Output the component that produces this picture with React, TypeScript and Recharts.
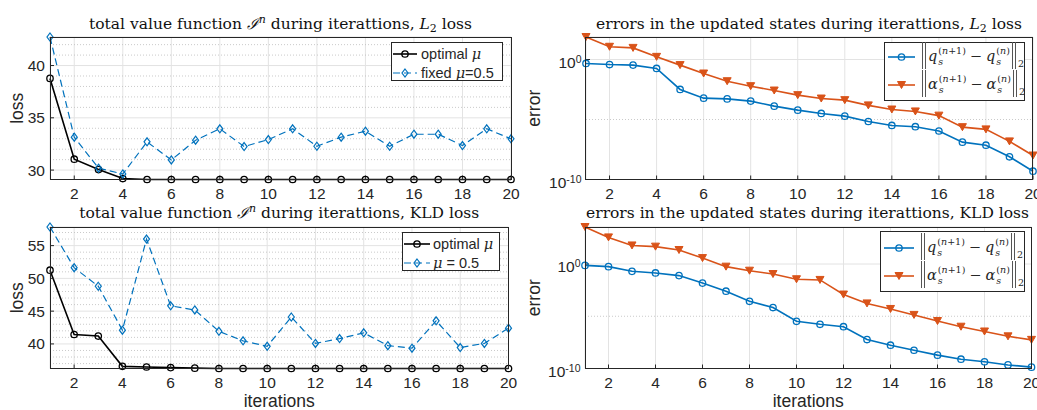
import React from 'react';
import { LineChart, Line, XAxis, YAxis, CartesianGrid, ReferenceLine, Legend } from 'recharts';

const SANS = '"Liberation Sans", Arial, Helvetica, sans-serif';
const SERIF = '"DejaVu Serif", serif';
const INK = '#262626';
const BLUE = '#0072BD';
const RED = '#D95319';

// x axis: iteration index
const iterations = [1, 2, 3, 4, 5, 6, 7, 8, 9, 10, 11, 12, 13, 14, 15, 16, 17, 18, 19, 20];
const iterTicks = [2, 4, 6, 8, 10, 12, 14, 16, 18, 20];

// total value function, L2 loss
const l2Optimal = [38.77, 31.04, 30.05, 29.19, 29.1, 29.1, 29.1, 29.1, 29.1, 29.1, 29.1, 29.1, 29.1, 29.1, 29.1, 29.1, 29.1, 29.1, 29.1, 29.1];
const l2Fixed = [42.73, 33.15, 30.18, 29.63, 32.7, 30.97, 32.86, 33.95, 32.25, 32.92, 33.95, 32.28, 33.15, 33.72, 32.28, 33.43, 33.43, 32.35, 33.95, 32.99];
const l2Ticks = [30, 35, 40];
const l2Minor = [31, 32, 33, 34, 36, 37, 38, 39, 41, 42];

// total value function, KLD loss
const kldOptimal = [51.25, 41.44, 41.2, 36.58, 36.48, 36.39, 36.3, 36.25, 36.25, 36.25, 36.25, 36.25, 36.25, 36.25, 36.25, 36.25, 36.25, 36.25, 36.25, 36.25];
const kldFixed = [57.84, 51.64, 48.8, 42.1, 56.0, 45.81, 45.18, 41.92, 40.47, 39.64, 44.11, 40.08, 40.81, 41.69, 39.74, 39.35, 43.53, 39.45, 40.08, 42.41];
const kldTicks = [40, 45, 50, 55];
const kldMinor = [37, 38, 39, 41, 42, 43, 44, 46, 47, 48, 49, 51, 52, 53, 54, 56, 57];

// errors in the updated states, L2 loss
const errQL2 = [0.47, 0.38, 0.34, 0.18, 3.2e-3, 6e-4, 5.2e-4, 3.4e-4, 1.3e-4, 6e-5, 3.2e-5, 1.9e-5, 6.8e-6, 3.2e-6, 2.5e-6, 1.1e-6, 1.3e-7, 7.2e-8, 7.8e-9, 4.9e-10];
const errAlphaL2 = [75, 11.5, 9.3, 1.66, 0.34, 6.8e-2, 1.55e-2, 6e-3, 2.6e-3, 1.07e-3, 5.6e-4, 4.1e-4, 1.5e-4, 6.8e-5, 4.7e-5, 2.1e-5, 2.3e-6, 1.5e-6, 1.5e-7, 1e-8];

// errors in the updated states, KLD loss
const errQKLD = [0.74, 0.56, 0.2, 0.14, 7.8e-2, 1.5e-2, 2.5e-3, 2.7e-4, 6.8e-5, 3.3e-6, 1.7e-6, 1e-6, 5.9e-8, 1.7e-8, 5.6e-9, 1.9e-9, 7.8e-10, 4.4e-10, 2.2e-10, 1.35e-10];
const errAlphaKLD = [3500, 355, 60, 46, 22, 3.7, 0.56, 0.23, 0.11, 3.5e-2, 3e-2, 1.2e-3, 1.7e-4, 5e-5, 1.35e-5, 3.5e-6, 1e-6, 3.5e-7, 1.2e-7, 5.5e-8];
const errTicks = [1e-10, 1];
const errMinor = [1e-5];

type Kind = 'circle' | 'diamond' | 'triangle';

interface SeriesDef {
  key: string;
  values: number[];
  color: string;
  width: number;
  dash?: string;
  marker: Kind;
  label: React.ReactNode;
}

interface Rect { left: number; top: number; right: number; bottom: number }

interface LegendSpec {
  left: number; top: number; width: number; height: number;
  padTop: number; padLeft: number; rowH: number; sampleW: number; gap: number;
}

function Marker({ kind, cx, cy, color }: { kind: Kind; cx: number; cy: number; color: string }) {
  if (kind === 'circle') {
    return <circle cx={cx} cy={cy} r={3.2} fill="none" stroke={color} strokeWidth={1.3} />;
  }
  if (kind === 'diamond') {
    return (
      <polygon
        points={`${cx},${cy - 4} ${cx + 3},${cy} ${cx},${cy + 4} ${cx - 3},${cy}`}
        fill="none" stroke={color} strokeWidth={1.2}
      />
    );
  }
  return (
    <polygon
      points={`${cx - 4},${cy - 3.5} ${cx + 4},${cy - 3.5} ${cx},${cy + 3.5}`}
      fill={color} stroke={color} strokeWidth={1} strokeLinejoin="round"
    />
  );
}

function LogTick({ x, y, payload }: any) {
  const exp = Math.round(Math.log10(payload.value));
  return (
    <text x={x} y={y} dy={8.3} textAnchor="end" fill={INK} fontSize={15.5} fontFamily={SANS}>
      10<tspan dy={-5} fontSize={10.5}>{exp}</tspan>
    </text>
  );
}

function Mu() {
  return <span style={{ fontFamily: SERIF, fontStyle: 'italic' }}>μ</span>;
}

function DoubleBar() {
  return (
    <span
      style={{
        display: 'inline-block', width: 2, height: 27, margin: '0 2px',
        borderLeft: '1px solid #555', borderRight: '1px solid #555',
      }}
    />
  );
}

function Scripted({ base, sup }: { base: string; sup: React.ReactNode }) {
  return (
    <span style={{ display: 'inline-flex', alignItems: 'center' }}>
      <span style={{ fontStyle: 'italic' }}>{base}</span>
      <span style={{ display: 'inline-flex', flexDirection: 'column', fontSize: 9.5, lineHeight: '11px', marginLeft: 1 }}>
        <span>{sup}</span>
        <span style={{ fontStyle: 'italic' }}>s</span>
      </span>
    </span>
  );
}

function NormLabel({ v }: { v: string }) {
  return (
    <span style={{ display: 'inline-flex', alignItems: 'center', fontFamily: SERIF, fontSize: 14.5, height: 28 }}>
      <DoubleBar />
      <Scripted base={v} sup={<>(<i>n</i>+1)</>} />
      <span style={{ margin: '0 4px' }}>−</span>
      <Scripted base={v} sup={<>(<i>n</i>)</>} />
      <DoubleBar />
      <span style={{ fontSize: 9.5, alignSelf: 'flex-end', marginBottom: 1 }}>2</span>
    </span>
  );
}

function LegendBox({ spec, series }: { spec: LegendSpec; series: SeriesDef[] }) {
  return (
    <div
      style={{
        width: spec.width, height: spec.height, boxSizing: 'border-box',
        border: `1px solid ${INK}`, background: '#fff',
        paddingTop: spec.padTop, paddingLeft: spec.padLeft, color: INK,
      }}
    >
      {series.map((s) => (
        <div key={s.key} style={{ display: 'flex', alignItems: 'center', height: spec.rowH }}>
          <svg width={spec.sampleW} height={14} style={{ flex: 'none' }}>
            <line x1={0} x2={spec.sampleW} y1={7} y2={7} stroke={s.color} strokeWidth={s.width} strokeDasharray={s.dash} />
            <Marker kind={s.marker} cx={spec.sampleW / 2} cy={7} color={s.color} />
          </svg>
          <span style={{ marginLeft: spec.gap, fontFamily: SANS, fontSize: 14.5, whiteSpace: 'nowrap' }}>{s.label}</span>
        </div>
      ))}
    </div>
  );
}

const YW = 60;
const PAD = 12;
const XH = 30;

interface PanelProps {
  rect: Rect;
  series: SeriesDef[];
  log?: boolean;
  domain: [number, number];
  ticks: number[];
  minor: number[];
  legend: LegendSpec;
}

function Panel({ rect, series, log, domain, ticks, minor, legend }: PanelProps) {
  const w = rect.right - rect.left;
  const h = rect.bottom - rect.top;
  const chartLeft = rect.left - YW;
  const chartTop = rect.top - PAD;
  const data = iterations.map((it, i) => {
    const row: Record<string, number> = { it };
    series.forEach((s) => { row[s.key] = s.values[i]; });
    return row;
  });

  return (
    <div style={{ position: 'absolute', left: chartLeft, top: chartTop }}>
      <LineChart width={w + YW + PAD} height={h + PAD + XH} data={data} margin={{ top: PAD, right: PAD, bottom: 0, left: 0 }}>
        <CartesianGrid stroke="#e3e3e3" strokeWidth={1} />
        {minor.map((v) => (
          <ReferenceLine key={v} y={v} stroke="#bcbcbc" strokeWidth={0.8} strokeDasharray="1 2" />
        ))}
        <XAxis
          dataKey="it" type="number" domain={[1, 20]} ticks={iterTicks} interval={0}
          height={XH} axisLine={false} tickLine={{ stroke: INK }} tickSize={-4} tickMargin={12}
          tick={{ fill: INK, fontSize: 15.5, fontFamily: SANS }}
        />
        {log ? (
          <YAxis
            type="number" scale="log" domain={domain} ticks={ticks} interval={0}
            width={YW} axisLine={false} tickLine={{ stroke: INK }} tickSize={-4} tickMargin={8.5}
            tick={<LogTick />}
          />
        ) : (
          <YAxis
            type="number" domain={domain} ticks={ticks} interval={0}
            width={YW} axisLine={false} tickLine={{ stroke: INK }} tickSize={-4} tickMargin={9}
            tick={{ fill: INK, fontSize: 15.5, fontFamily: SANS }}
          />
        )}
        {series.map((s) => (
          <Line
            key={s.key}
            type="linear"
            dataKey={s.key}
            stroke={s.color}
            strokeWidth={s.width}
            strokeDasharray={s.dash}
            dot={(p: any) => <Marker key={p.index} kind={s.marker} cx={p.cx} cy={p.cy} color={s.color} />}
            activeDot={false}
            isAnimationActive={false}
          />
        ))}
        <Legend
          layout="horizontal" verticalAlign="middle" align="center"
          wrapperStyle={{ left: legend.left - chartLeft, top: legend.top - chartTop, width: 'auto', height: 'auto' }}
          content={() => <LegendBox spec={legend} series={series} />}
        />
      </LineChart>
      <div
        style={{
          position: 'absolute', left: YW - 0.5, top: PAD - 0.5, width: w + 1, height: h + 1,
          boxSizing: 'border-box', border: `1px solid ${INK}`, pointerEvents: 'none',
        }}
      />
    </div>
  );
}

const rectTL: Rect = { left: 50, top: 37, right: 511, bottom: 179.5 };
const rectBL: Rect = { left: 50, top: 227, right: 508.5, bottom: 368.5 };
const rectTR: Rect = { left: 585.5, top: 37, right: 1032.5, bottom: 179.5 };
const rectBR: Rect = { left: 585, top: 227, right: 1031.5, bottom: 368.5 };

const span = (...arrs: number[][]): [number, number] => {
  const all = arrs.flat();
  return [Math.min(...all), Math.max(...all)];
};

function Titles() {
  const titleProps = { fontFamily: SERIF, fontSize: 15.5, fill: '#111', textAnchor: 'middle' as const };
  const labelProps = { fontFamily: SANS, fontSize: 17.5, fill: INK, textAnchor: 'middle' as const };
  return (
    <svg width={1037} height={410} style={{ position: 'absolute', left: 0, top: 0 }}>
      <text x={280.5} y={28.5} {...titleProps}>
        total value function <tspan fontStyle="italic">ℐ</tspan>
        <tspan dy={-6} fontSize={11} fontStyle="italic">n</tspan>
        <tspan dy={6}> during iterattions, </tspan>
        <tspan fontStyle="italic">L</tspan>
        <tspan dy={3} fontSize={11}>2</tspan>
        <tspan dy={-3}> loss</tspan>
      </text>
      <text x={279.25} y={218} {...titleProps}>
        total value function <tspan fontStyle="italic">ℐ</tspan>
        <tspan dy={-6} fontSize={11} fontStyle="italic">n</tspan>
        <tspan dy={6}> during iterattions, KLD loss</tspan>
      </text>
      <text x={809} y={29} {...titleProps}>
        errors in the updated states during iterattions, <tspan fontStyle="italic">L</tspan>
        <tspan dy={3} fontSize={11}>2</tspan>
        <tspan dy={-3}> loss</tspan>
      </text>
      <text x={807.5} y={218} {...titleProps}>
        errors in the updated states during iterattions, KLD loss
      </text>
      <text transform="translate(22.7,108.25) rotate(-90)" {...labelProps}>loss</text>
      <text transform="translate(22.7,297.75) rotate(-90)" {...labelProps}>loss</text>
      <text transform="translate(540,108.25) rotate(-90)" {...labelProps}>error</text>
      <text transform="translate(540,297.75) rotate(-90)" {...labelProps}>error</text>
      <text x={279.25} y={406.5} {...labelProps}>iterations</text>
      <text x={808.25} y={406.5} {...labelProps}>iterations</text>
    </svg>
  );
}

export default function App() {
  const lossL2: SeriesDef[] = [
    { key: 'optimal', values: l2Optimal, color: '#000', width: 1.6, marker: 'circle', label: <>optimal <Mu /></> },
    { key: 'fixed', values: l2Fixed, color: BLUE, width: 1.2, dash: '7 4', marker: 'diamond', label: <>fixed <Mu />=0.5</> },
  ];
  const lossKLD: SeriesDef[] = [
    { key: 'optimal', values: kldOptimal, color: '#000', width: 1.6, marker: 'circle', label: <>optimal <Mu /></> },
    { key: 'fixed', values: kldFixed, color: BLUE, width: 1.2, dash: '7 4', marker: 'diamond', label: <><Mu /> = 0.5</> },
  ];
  const errL2: SeriesDef[] = [
    { key: 'q', values: errQL2, color: BLUE, width: 1.6, marker: 'circle', label: <NormLabel v="q" /> },
    { key: 'alpha', values: errAlphaL2, color: RED, width: 1.6, marker: 'triangle', label: <NormLabel v="α" /> },
  ];
  const errKLD: SeriesDef[] = [
    { key: 'q', values: errQKLD, color: BLUE, width: 1.6, marker: 'circle', label: <NormLabel v="q" /> },
    { key: 'alpha', values: errAlphaKLD, color: RED, width: 1.6, marker: 'triangle', label: <NormLabel v="α" /> },
  ];

  return (
    <div style={{ position: 'relative', width: 1037, height: 410, background: '#fff', overflow: 'hidden' }}>
      <style>{'body{margin:0}'}</style>
      <Titles />
      <Panel
        rect={rectTL} series={lossL2} domain={span(l2Optimal, l2Fixed)} ticks={l2Ticks} minor={l2Minor}
        legend={{ left: 391, top: 42, width: 112, height: 39, padTop: 1, padLeft: 1, rowH: 19, sampleW: 24, gap: 4 }}
      />
      <Panel
        rect={rectBL} series={lossKLD} domain={span(kldOptimal, kldFixed)} ticks={kldTicks} minor={kldMinor}
        legend={{ left: 402, top: 232, width: 98, height: 39, padTop: 1, padLeft: 1, rowH: 19, sampleW: 26, gap: 3 }}
      />
      <Panel
        rect={rectTR} series={errL2} log domain={[1e-10, Math.max(...errAlphaL2)]} ticks={errTicks} minor={errMinor}
        legend={{ left: 884, top: 42, width: 141, height: 59, padTop: 0, padLeft: 3, rowH: 28, sampleW: 27, gap: 5 }}
      />
      <Panel
        rect={rectBR} series={errKLD} log domain={[1e-10, Math.max(...errAlphaKLD)]} ticks={errTicks} minor={errMinor}
        legend={{ left: 880, top: 231, width: 145, height: 61, padTop: 2, padLeft: 3, rowH: 28, sampleW: 30, gap: 5 }}
      />
    </div>
  );
}
